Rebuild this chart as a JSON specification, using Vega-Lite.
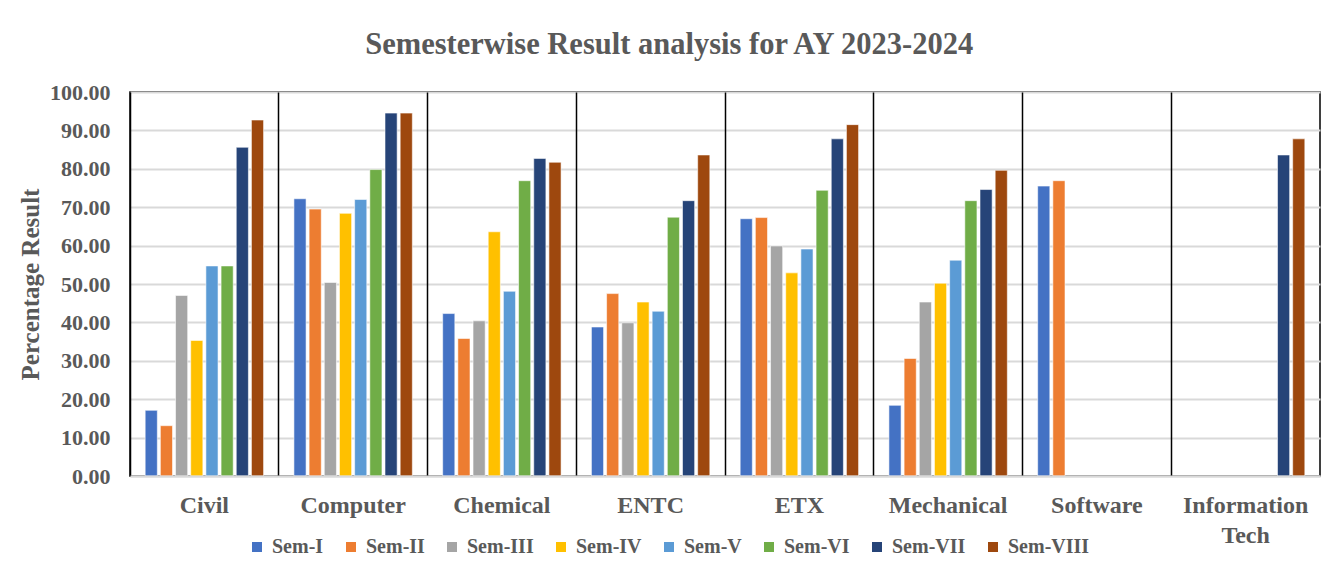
{
  "$schema": "https://vega.github.io/schema/vega-lite/v6.json",
  "autosize": {"type": "none"},
  "width": 1190,
  "height": 384,
  "padding": {"left": 130, "top": 92, "right": 4, "bottom": 105},
  "background": "white",
  "title": {
    "text": "Semesterwise Result analysis for AY 2023-2024",
    "font": "Liberation Serif",
    "fontSize": 30.5,
    "fontWeight": "bold",
    "color": "#595959",
    "anchor": "middle",
    "frame": "bounds",
    "offset": 21
  },
  "config": {
    "view": {"stroke": "black", "strokeWidth": 1.5},
    "font": "Liberation Serif"
  },
  "data": {
    "values": [
      {"dept": "Civil", "sem": "Sem-I", "value": 17.1},
      {"dept": "Civil", "sem": "Sem-II", "value": 13.1},
      {"dept": "Civil", "sem": "Sem-III", "value": 47.0},
      {"dept": "Civil", "sem": "Sem-IV", "value": 35.3},
      {"dept": "Civil", "sem": "Sem-V", "value": 54.7},
      {"dept": "Civil", "sem": "Sem-VI", "value": 54.7},
      {"dept": "Civil", "sem": "Sem-VII", "value": 85.6},
      {"dept": "Civil", "sem": "Sem-VIII", "value": 92.7},
      {"dept": "Computer", "sem": "Sem-I", "value": 72.2},
      {"dept": "Computer", "sem": "Sem-II", "value": 69.5},
      {"dept": "Computer", "sem": "Sem-III", "value": 50.4},
      {"dept": "Computer", "sem": "Sem-IV", "value": 68.4},
      {"dept": "Computer", "sem": "Sem-V", "value": 72.0},
      {"dept": "Computer", "sem": "Sem-VI", "value": 79.8},
      {"dept": "Computer", "sem": "Sem-VII", "value": 94.5},
      {"dept": "Computer", "sem": "Sem-VIII", "value": 94.5},
      {"dept": "Chemical", "sem": "Sem-I", "value": 42.3},
      {"dept": "Chemical", "sem": "Sem-II", "value": 35.8},
      {"dept": "Chemical", "sem": "Sem-III", "value": 40.4},
      {"dept": "Chemical", "sem": "Sem-IV", "value": 63.6},
      {"dept": "Chemical", "sem": "Sem-V", "value": 48.1},
      {"dept": "Chemical", "sem": "Sem-VI", "value": 76.9},
      {"dept": "Chemical", "sem": "Sem-VII", "value": 82.7},
      {"dept": "Chemical", "sem": "Sem-VIII", "value": 81.7},
      {"dept": "ENTC", "sem": "Sem-I", "value": 38.8},
      {"dept": "ENTC", "sem": "Sem-II", "value": 47.5},
      {"dept": "ENTC", "sem": "Sem-III", "value": 39.9},
      {"dept": "ENTC", "sem": "Sem-IV", "value": 45.3},
      {"dept": "ENTC", "sem": "Sem-V", "value": 42.9},
      {"dept": "ENTC", "sem": "Sem-VI", "value": 67.4},
      {"dept": "ENTC", "sem": "Sem-VII", "value": 71.7},
      {"dept": "ENTC", "sem": "Sem-VIII", "value": 83.6},
      {"dept": "ETX", "sem": "Sem-I", "value": 67.0},
      {"dept": "ETX", "sem": "Sem-II", "value": 67.3},
      {"dept": "ETX", "sem": "Sem-III", "value": 59.9},
      {"dept": "ETX", "sem": "Sem-IV", "value": 52.9},
      {"dept": "ETX", "sem": "Sem-V", "value": 59.1},
      {"dept": "ETX", "sem": "Sem-VI", "value": 74.4},
      {"dept": "ETX", "sem": "Sem-VII", "value": 87.8},
      {"dept": "ETX", "sem": "Sem-VIII", "value": 91.5},
      {"dept": "Mechanical", "sem": "Sem-I", "value": 18.4},
      {"dept": "Mechanical", "sem": "Sem-II", "value": 30.6},
      {"dept": "Mechanical", "sem": "Sem-III", "value": 45.3},
      {"dept": "Mechanical", "sem": "Sem-IV", "value": 50.2},
      {"dept": "Mechanical", "sem": "Sem-V", "value": 56.2},
      {"dept": "Mechanical", "sem": "Sem-VI", "value": 71.7},
      {"dept": "Mechanical", "sem": "Sem-VII", "value": 74.6},
      {"dept": "Mechanical", "sem": "Sem-VIII", "value": 79.6},
      {"dept": "Software", "sem": "Sem-I", "value": 75.5},
      {"dept": "Software", "sem": "Sem-II", "value": 76.9},
      {"dept": "Information Tech", "sem": "Sem-VII", "value": 83.6},
      {"dept": "Information Tech", "sem": "Sem-VIII", "value": 87.8}
    ]
  },
  "mark": {"type": "bar", "stroke": "white", "strokeWidth": 0.8, "strokeOpacity": 0.7},
  "encoding": {
    "x": {
      "field": "dept",
      "type": "nominal",
      "scale": {
        "domain": ["Civil", "Computer", "Chemical", "ENTC", "ETX", "Mechanical", "Software", "Information Tech"],
        "paddingInner": 0,
        "paddingOuter": 0
      },
      "axis": {
        "title": null,
        "labelAngle": 0,
        "labelFont": "Liberation Serif",
        "labelFontSize": 24,
        "labelFontWeight": "bold",
        "labelColor": "#595959",
        "labelPadding": 17,
        "labelLineHeight": 30,
        "labelExpr": "datum.label == 'Information Tech' ? ['Information', 'Tech'] : datum.label",
        "ticks": false,
        "domain": true,
        "domainColor": "#d9d9d9",
        "domainWidth": 2,
        "grid": true,
        "gridColor": "black",
        "gridWidth": 1.5,
        "bandPosition": 0,
        "zindex": 1
      }
    },
    "xOffset": {
      "field": "sem",
      "type": "nominal",
      "scale": {
        "domain": ["Sem-I", "Sem-II", "Sem-III", "Sem-IV", "Sem-V", "Sem-VI", "Sem-VII", "Sem-VIII"],
        "paddingInner": 0.2,
        "paddingOuter": 1
      }
    },
    "y": {
      "field": "value",
      "type": "quantitative",
      "scale": {"domain": [0, 100], "nice": false},
      "axis": {
        "title": "Percentage Result",
        "titleFont": "Liberation Serif",
        "titleFontSize": 25,
        "titleFontWeight": "bold",
        "titleColor": "#595959",
        "titlePadding": 6,
        "values": [0, 10, 20, 30, 40, 50, 60, 70, 80, 90, 100],
        "format": ".2f",
        "labelFont": "Liberation Serif",
        "labelFontSize": 22,
        "labelFontWeight": "bold",
        "labelColor": "#595959",
        "labelPadding": 20,
        "ticks": false,
        "domain": false,
        "grid": true,
        "gridColor": "#d9d9d9",
        "gridWidth": 2
      }
    },
    "color": {
      "field": "sem",
      "type": "nominal",
      "scale": {
        "domain": ["Sem-I", "Sem-II", "Sem-III", "Sem-IV", "Sem-V", "Sem-VI", "Sem-VII", "Sem-VIII"],
        "range": ["#4472C4", "#ED7D31", "#A5A5A5", "#FFC000", "#5B9BD5", "#70AD47", "#264478", "#9E480E"]
      },
      "legend": {
        "title": null,
        "orient": "none",
        "direction": "horizontal",
        "legendX": 117,
        "legendY": 445,
        "symbolType": "square",
        "symbolSize": 100,
        "symbolStrokeWidth": 0,
        "labelFont": "Liberation Serif",
        "labelFontSize": 20,
        "labelFontWeight": "bold",
        "labelColor": "#595959",
        "labelOffset": 5,
        "columnPadding": 17
      }
    }
  }
}
